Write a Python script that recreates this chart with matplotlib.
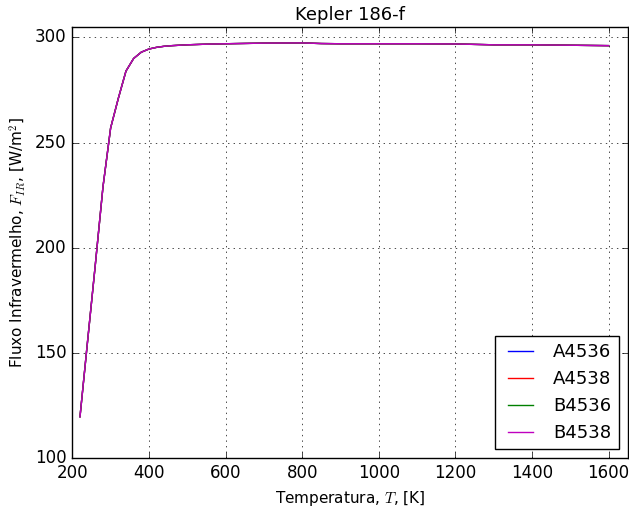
import matplotlib
matplotlib.use('Agg')
import matplotlib.pyplot as plt

plt.style.use('classic')
plt.rcParams['figure.facecolor'] = 'white'
plt.rcParams['savefig.facecolor'] = 'white'

# temperatura [K] e fluxo infravermelho [W/m^2] para cada modelo
temperatura = [220, 240, 260, 280, 300, 320, 340, 360, 380, 400, 420, 440, 460,
               500, 550, 600, 700, 800, 850, 900, 1000, 1100, 1200, 1250, 1300,
               1400, 1500, 1600]
fluxo = [119.7, 156.0, 192.0, 229.0, 257.0, 271.0, 284.0, 290.0, 293.0, 294.5,
         295.3, 295.8, 296.1, 296.5, 296.8, 297.0, 297.3, 297.4, 297.1, 297.0,
         297.0, 297.0, 296.9, 296.7, 296.5, 296.5, 296.3, 296.1]

fluxo_A4536 = fluxo
fluxo_A4538 = fluxo
fluxo_B4536 = fluxo
fluxo_B4538 = fluxo

fig = plt.figure(figsize=(6.29, 5.08), dpi=100)
ax = fig.add_subplot(111)
fig.subplots_adjust(left=0.115, right=0.998, bottom=0.098, top=0.947)

ax.plot(temperatura, fluxo_A4536, 'b-', label='A4536')
ax.plot(temperatura, fluxo_A4538, 'r-', label='A4538')
ax.plot(temperatura, fluxo_B4536, 'g-', label='B4536')
ax.plot(temperatura, fluxo_B4538, 'm-', label='B4538')

ax.set_xlim(200, 1650)
ax.set_ylim(100, 305)
ax.set_title('Kepler 186-f', fontsize=13)
ax.set_xlabel('Temperatura, $T$, [K]', fontsize=11)
ax.set_ylabel('Fluxo Infravermelho, $F_{IR}$, [W/m$^2$]', fontsize=11)
ax.tick_params(labelsize=12)
ax.grid(True)
ax.legend(loc=4, fontsize=13)

plt.savefig('out.png', dpi=100)
